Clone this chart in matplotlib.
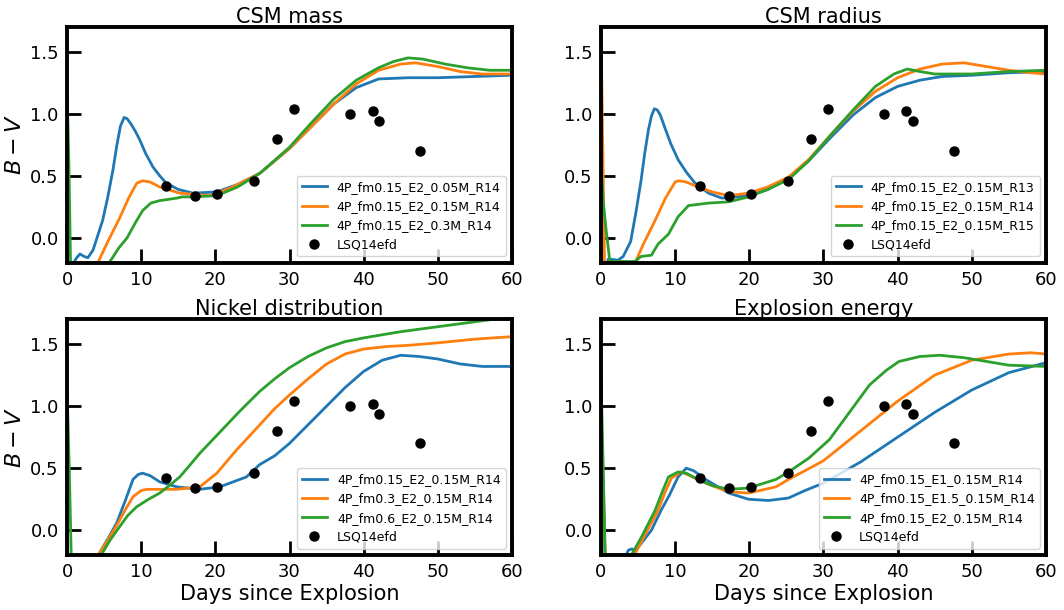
import matplotlib
matplotlib.use('Agg')
import matplotlib.pyplot as plt

# observed colour of LSQ14efd
obs_t = [13.3, 17.2, 20.2, 25.2, 28.3, 30.6, 38.2, 41.2, 42.1, 47.6]
obs_bv = [0.42, 0.34, 0.35, 0.46, 0.80, 1.04, 1.00, 1.02, 0.94, 0.70]

# --- CSM mass panel ---
mass_labels = ['4P_fm0.15_E2_0.05M_R14', '4P_fm0.15_E2_0.15M_R14', '4P_fm0.15_E2_0.3M_R14']
mass_t = [
    [0.8, 1.3, 1.75, 2.3, 2.8, 3.5, 4.8, 5.5, 6.2, 6.7, 7.2, 7.7, 8.1, 8.6, 9.2, 9.8, 10.6, 11.6, 12.5, 13.4,
     15.0, 17.0, 20.2, 23.0, 26.0, 30.0, 33.0, 36.0, 39.0, 42.0, 46.0, 50.0, 55.0, 60.0],
    [4.0, 5.5, 7.1, 8.3, 9.4, 10.2, 11.2, 12.5, 15.2, 19.2, 22.0, 26.0, 30.0, 33.0, 36.0, 39.0, 42.0, 45.0,
     47.0, 50.0, 53.0, 56.0, 60.0],
    [0.0, 0.25, 0.5, 5.0, 5.8, 7.0, 8.1, 9.2, 10.2, 11.3, 12.5, 14.8, 15.5, 17.0, 20.2, 23.0, 26.0, 30.0, 33.0,
     36.0, 39.0, 42.0, 44.0, 46.0, 48.0, 51.0, 54.0, 57.0, 60.0],
]
mass_bv = [
    [-0.21, -0.16, -0.13, -0.15, -0.16, -0.10, 0.14, 0.33, 0.55, 0.74, 0.90, 0.97, 0.96, 0.92, 0.86, 0.79, 0.68,
     0.57, 0.50, 0.44, 0.39, 0.36, 0.37, 0.43, 0.52, 0.72, 0.90, 1.08, 1.21, 1.28, 1.29, 1.29, 1.30, 1.31],
    [-0.22, -0.03, 0.16, 0.32, 0.44, 0.46, 0.45, 0.41, 0.36, 0.34, 0.40, 0.52, 0.72, 0.90, 1.08, 1.24, 1.35,
     1.40, 1.41, 1.38, 1.34, 1.32, 1.32],
    [1.2, 0.6, -0.3, -0.3, -0.19, -0.08, 0.0, 0.12, 0.22, 0.28, 0.30, 0.32, 0.33, 0.33, 0.34, 0.41, 0.52, 0.73,
     0.93, 1.12, 1.27, 1.37, 1.42, 1.45, 1.44, 1.40, 1.37, 1.35, 1.35],
]

# --- CSM radius panel ---
radius_labels = ['4P_fm0.15_E2_0.15M_R13', '4P_fm0.15_E2_0.15M_R14', '4P_fm0.15_E2_0.15M_R15']
radius_t = [
    [0.6, 1.0, 2.3, 3.0, 4.0, 4.7, 5.4, 5.9, 6.4, 6.8, 7.2, 7.6, 8.0, 8.6, 9.4, 10.4, 11.5, 12.7, 14.5, 16.3,
     19.9, 22.5, 25.3, 28.0, 31.0, 34.0, 37.0, 40.0, 43.0, 46.0, 50.0, 55.0, 60.0],
    [0.0, 0.5, 4.3, 4.6, 5.8, 7.3, 8.7, 10.0, 10.5, 11.5, 13.1, 15.0, 17.2, 19.9, 22.5, 25.3, 28.0, 31.0, 34.0,
     37.0, 40.0, 43.0, 46.0, 49.0, 52.0, 55.0, 58.0, 60.0],
    [0.0, 0.3, 0.7, 1.2, 4.6, 5.4, 6.8, 7.7, 9.1, 10.4, 11.8, 14.5, 17.2, 19.9, 22.5, 25.3, 28.0, 31.0, 34.0,
     37.0, 39.5, 41.3, 43.0, 45.0, 50.0, 55.0, 60.0],
]
radius_bv = [
    [-0.25, -0.17, -0.18, -0.15, -0.03, 0.20, 0.46, 0.68, 0.87, 0.98, 1.04, 1.03, 0.99, 0.89, 0.76, 0.63, 0.53,
     0.44, 0.36, 0.32, 0.34, 0.39, 0.48, 0.62, 0.81, 0.99, 1.13, 1.22, 1.27, 1.30, 1.31, 1.33, 1.34],
    [1.7, -0.3, -0.3, -0.2, -0.04, 0.14, 0.32, 0.45, 0.46, 0.45, 0.41, 0.37, 0.34, 0.36, 0.41, 0.49, 0.63, 0.83,
     1.02, 1.18, 1.29, 1.36, 1.40, 1.41, 1.38, 1.35, 1.33, 1.32],
    [0.6, 0.3, 0.06, -0.19, -0.19, -0.15, -0.14, -0.05, 0.03, 0.17, 0.26, 0.28, 0.29, 0.33, 0.39, 0.47, 0.62,
     0.83, 1.03, 1.22, 1.32, 1.36, 1.34, 1.32, 1.32, 1.34, 1.35],
]

# --- Nickel distribution panel ---
nickel_labels = ['4P_fm0.15_E2_0.15M_R14', '4P_fm0.3_E2_0.15M_R14', '4P_fm0.6_E2_0.15M_R14']
nickel_t = [
    [3.8, 4.2, 5.5, 6.7, 7.8, 8.9, 9.6, 10.2, 11.2, 12.5, 14.8, 17.9, 20.6, 24.2, 26.0, 28.0, 30.0, 32.5, 35.0,
     37.5, 40.0, 42.5, 45.0, 47.5, 50.0, 53.0, 56.0, 60.0],
    [3.8, 4.2, 5.5, 6.8, 8.0, 8.9, 10.0, 10.8, 14.8, 17.9, 20.2, 22.9, 26.0, 28.0, 30.0, 32.5, 35.0, 37.5, 40.0,
     43.0, 46.0, 50.0, 55.0, 60.0],
    [0.0, 0.3, 0.6, 4.3, 4.6, 5.8, 7.1, 8.2, 9.4, 11.0, 12.5, 13.8, 15.2, 16.5, 17.9, 20.6, 23.3, 26.0, 28.0,
     30.0, 32.5, 35.0, 37.5, 40.0, 45.0, 50.0, 55.0, 60.0],
]
nickel_bv = [
    [-0.3, -0.2, -0.07, 0.06, 0.23, 0.41, 0.45, 0.46, 0.44, 0.39, 0.35, 0.33, 0.35, 0.43, 0.53, 0.60, 0.70, 0.85,
     1.00, 1.15, 1.28, 1.37, 1.41, 1.40, 1.38, 1.34, 1.32, 1.32],
    [-0.3, -0.2, -0.08, 0.05, 0.18, 0.27, 0.32, 0.33, 0.33, 0.35, 0.46, 0.65, 0.85, 0.98, 1.09, 1.22, 1.34, 1.42,
     1.46, 1.48, 1.49, 1.51, 1.54, 1.56],
    [1.15, 0.5, -0.3, -0.3, -0.2, -0.08, 0.03, 0.12, 0.19, 0.25, 0.30, 0.36, 0.43, 0.52, 0.62, 0.79, 0.96, 1.12,
     1.22, 1.31, 1.40, 1.47, 1.52, 1.55, 1.60, 1.64, 1.68, 1.72],
]

# --- Explosion energy panel ---
energy_labels = ['4P_fm0.15_E1_0.15M_R14', '4P_fm0.15_E1.5_0.15M_R14', '4P_fm0.15_E2_0.15M_R14']
energy_t = [
    [0.0, 0.3, 0.6, 3.0, 3.4, 3.7, 4.2, 4.6, 5.5, 6.8, 8.1, 9.2, 10.4, 11.5, 12.5, 14.1, 17.2, 19.9, 22.6, 25.3,
     27.5, 30.0, 35.0, 40.0, 45.0, 50.0, 55.0, 60.0],
    [0.0, 0.3, 0.6, 4.1, 4.5, 6.0, 7.7, 8.6, 9.5, 10.8, 12.0, 14.1, 17.2, 19.9, 23.6, 25.3, 27.5, 30.0, 35.0,
     40.0, 45.0, 50.0, 55.0, 58.0, 60.0],
    [0.0, 0.3, 0.6, 3.7, 4.1, 5.5, 7.3, 8.2, 9.1, 10.4, 11.5, 13.1, 15.0, 17.2, 19.9, 23.6, 25.3, 28.0, 30.8,
     33.5, 36.2, 38.5, 40.2, 43.0, 45.7, 49.0, 52.0, 55.0, 60.0],
]
energy_bv = [
    [0.9, 0.3, -0.3, -0.3, -0.2, -0.16, -0.15, -0.17, -0.10, 0.0, 0.16, 0.28, 0.43, 0.50, 0.48, 0.41, 0.30, 0.25,
     0.24, 0.26, 0.32, 0.38, 0.55, 0.75, 0.95, 1.13, 1.27, 1.35],
    [1.0, 0.4, -0.3, -0.3, -0.2, -0.03, 0.16, 0.30, 0.42, 0.47, 0.44, 0.38, 0.31, 0.30, 0.35, 0.41, 0.48, 0.56,
     0.80, 1.04, 1.25, 1.37, 1.42, 1.43, 1.42],
    [1.25, 0.5, -0.3, -0.3, -0.2, -0.05, 0.16, 0.30, 0.43, 0.47, 0.46, 0.41, 0.36, 0.33, 0.34, 0.41, 0.47, 0.58,
     0.73, 0.95, 1.17, 1.29, 1.36, 1.40, 1.41, 1.39, 1.36, 1.33, 1.32],
]

panels = [
    ('CSM mass', mass_t, mass_bv, mass_labels),
    ('CSM radius', radius_t, radius_bv, radius_labels),
    ('Nickel distribution', nickel_t, nickel_bv, nickel_labels),
    ('Explosion energy', energy_t, energy_bv, energy_labels),
]
colors = ['tab:blue', 'tab:orange', 'tab:green']

fig, axes = plt.subplots(2, 2, figsize=(10.64, 6.10), dpi=100)
plt.subplots_adjust(left=0.063, right=0.983, top=0.956, bottom=0.09, wspace=0.2, hspace=0.24)

for i, (title, ts, bvs, labels) in enumerate(panels):
    ax = axes.flat[i]
    for t, bv, lab, c in zip(ts, bvs, labels, colors):
        ax.plot(t, bv, color=c, lw=2, label=lab)
    ax.plot(obs_t, obs_bv, 'o', color='black', ms=6.5, label='LSQ14efd')
    ax.set_xlim(0, 60)
    ax.set_ylim(-0.2, 1.7)
    ax.set_title(title, fontsize=15, pad=3)
    ax.tick_params(direction='in', length=10, width=2, labelsize=13, pad=6)
    for s in ax.spines.values():
        s.set_linewidth(2.8)
    ax.legend(loc='lower right', fontsize=9)
    if i % 2 == 0:
        ax.set_ylabel('$B-V$', fontsize=16)
    if i >= 2:
        ax.set_xlabel('Days since Explosion', fontsize=15, labelpad=2)

plt.savefig('out.png', dpi=100)
